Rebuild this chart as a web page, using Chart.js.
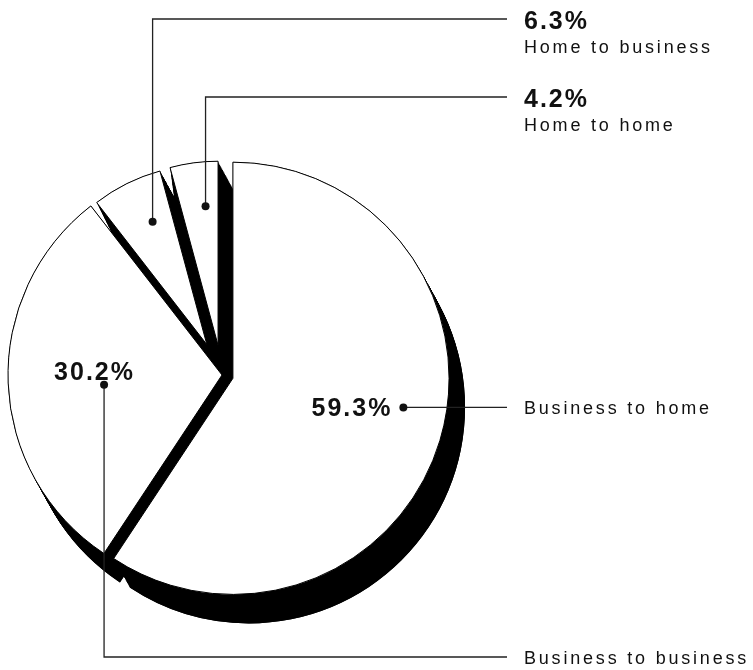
<!DOCTYPE html>
<html>
<head>
<meta charset="utf-8">
<title>Transactions by type</title>
<script src="https://cdn.jsdelivr.net/npm/chart.js@4.4.1/dist/chart.umd.min.js"></script>
<style>
	html, body { margin: 0; padding: 0; background: #fff; }
	#chart { display: block; }
</style>
</head>
<body>
<canvas id="chart" width="753" height="670"></canvas>
<script>
'use strict'
// данные
const categories = ['Business to home', 'Business to business', 'Home to business', 'Home to home'];
const shares = [59.3, 30.2, 6.3, 4.2];
const shareLabels = ['59.3%', '30.2%', '6.3%', '4.2%'];

// оформление долей: вынос от центра, масштаб верхней грани, толщина "бока"
const explode = [11.4, 0, 34, 30];
const faceScale = [1.01, 1, 0.84, 0.86];
const wallFromCenter = [false, false, true, true];
const depth = {x: 16, y: 29};

// точка выноски внутри доли: [доля угла, доля радиуса]
const anchors = [[0.467, 0.80], [0.476, 0.553], [0.616, 0.747], [0.66, 0.758]];

// подписи справа
const textX = 524, lineEndX = 507;
const topRows = {2: 19, 3: 97};
const bottomRow = 657;

const boldFont = 'bold 25px "Liberation Sans", Arial, sans-serif';
const plainFont = '18px "Liberation Sans", Arial, sans-serif';
const ink = '#111';

function sliceGeom(arc, i, k = 1) {
	let p = arc.getProps(['x', 'y', 'startAngle', 'endAngle', 'outerRadius'], true);
	let mid = (p.startAngle + p.endAngle) / 2;
	return {
		cx: p.x + Math.cos(mid) * explode[i] * k,
		cy: p.y + Math.sin(mid) * explode[i] * k,
		r: p.outerRadius * faceScale[i],
		start: p.startAngle,
		end: p.endAngle
	};
}

function anchorPoint(g, i) {
	let a = g.start + (g.end - g.start) * anchors[i][0];
	let d = g.r * anchors[i][1];
	return {x: g.cx + Math.cos(a) * d, y: g.cy + Math.sin(a) * d};
}

// доли с чёрным боком: сначала бока всех долей, затем белые грани
const extrudedPie = {
	id: 'extrudedPie',
	beforeDatasetDraw(chart, args) {
		let ctx = chart.ctx;
		let arcs = args.meta.data;
		let dSteps = Math.ceil(Math.hypot(depth.x, depth.y) / 1.5);
		ctx.save();
		ctx.fillStyle = '#000';
		arcs.forEach((arc, i) => {
			let k0 = wallFromCenter[i] ? 0 : 1;
			let eSteps = Math.max(1, Math.ceil(explode[i] * (1 - k0) / 1.5));
			for (let e = 0; e <= eSteps; e++) {
				let g = sliceGeom(arc, i, k0 + (1 - k0) * e / eSteps);
				for (let s = 0; s <= dSteps; s++) {
					let x = g.cx + depth.x * s / dSteps, y = g.cy + depth.y * s / dSteps;
					ctx.beginPath();
					ctx.moveTo(x, y);
					ctx.arc(x, y, g.r, g.start, g.end);
					ctx.closePath();
					ctx.fill();
				}
			}
		});
		ctx.restore();

		arcs.forEach((arc, i) => {
			let g = sliceGeom(arc, i);
			let r0 = arc.outerRadius;
			arc.outerRadius = g.r;
			ctx.save();
			ctx.translate(g.cx - arc.x, g.cy - arc.y);
			arc.draw(ctx);
			ctx.restore();
			arc.outerRadius = r0;
		});
		return false;
	}
};

// выноски с подписями
const callouts = {
	id: 'callouts',
	afterDatasetsDraw(chart) {
		let ctx = chart.ctx;
		let arcs = chart.getDatasetMeta(0).data;
		ctx.save();
		ctx.strokeStyle = '#222';
		ctx.fillStyle = ink;
		ctx.lineWidth = 1.3;
		arcs.forEach((arc, i) => {
			let p = anchorPoint(sliceGeom(arc, i), i);
			let row;
			ctx.beginPath();
			ctx.moveTo(p.x, p.y);
			if (topRows[i] !== undefined) {
				row = topRows[i];
				ctx.lineTo(p.x, row);
				ctx.lineTo(lineEndX, row);
			} else if (i == 1) {
				row = bottomRow;
				ctx.lineTo(p.x, row);
				ctx.lineTo(lineEndX, row);
			} else {
				row = p.y;
				ctx.lineTo(lineEndX, row);
			}
			ctx.stroke();

			ctx.beginPath();
			ctx.arc(p.x, p.y, 4, 0, Math.PI * 2);
			ctx.fill();

			ctx.textBaseline = 'alphabetic';
			if (topRows[i] !== undefined) {
				ctx.textAlign = 'left';
				ctx.font = boldFont; ctx.letterSpacing = '2px';
				ctx.fillText(shareLabels[i], textX, row + 9.5);
				ctx.font = plainFont; ctx.letterSpacing = '2.8px';
				ctx.fillText(categories[i], textX, row + 34);
			} else {
				ctx.font = plainFont; ctx.letterSpacing = '2.8px';
				ctx.textAlign = 'left';
				ctx.fillText(categories[i], textX, row + 6.5);
				ctx.font = boldFont; ctx.letterSpacing = '2px';
				if (i == 0) {
					ctx.textAlign = 'right';
					ctx.fillText(shareLabels[i], p.x - 11, p.y + 9);
				} else {
					ctx.textAlign = 'left';
					ctx.fillText(shareLabels[i], p.x - 50, p.y - 5);
				}
			}
		});
		ctx.restore();
	}
};

new Chart(document.getElementById('chart'), {
	type: 'pie',
	data: {
		labels: categories,
		datasets: [{
			data: shares,
			backgroundColor: '#fff',
			borderColor: '#000',
			borderWidth: 1,
			offset: 0
		}]
	},
	options: {
		responsive: false,
		devicePixelRatio: 1,
		animation: false,
		events: [],
		radius: 214,
		layout: {padding: {left: 0, right: 309, top: 80, bottom: 0}},
		plugins: {
			legend: {display: false},
			tooltip: {enabled: false}
		}
	},
	plugins: [extrudedPie, callouts]
});
</script>
</body>
</html>
